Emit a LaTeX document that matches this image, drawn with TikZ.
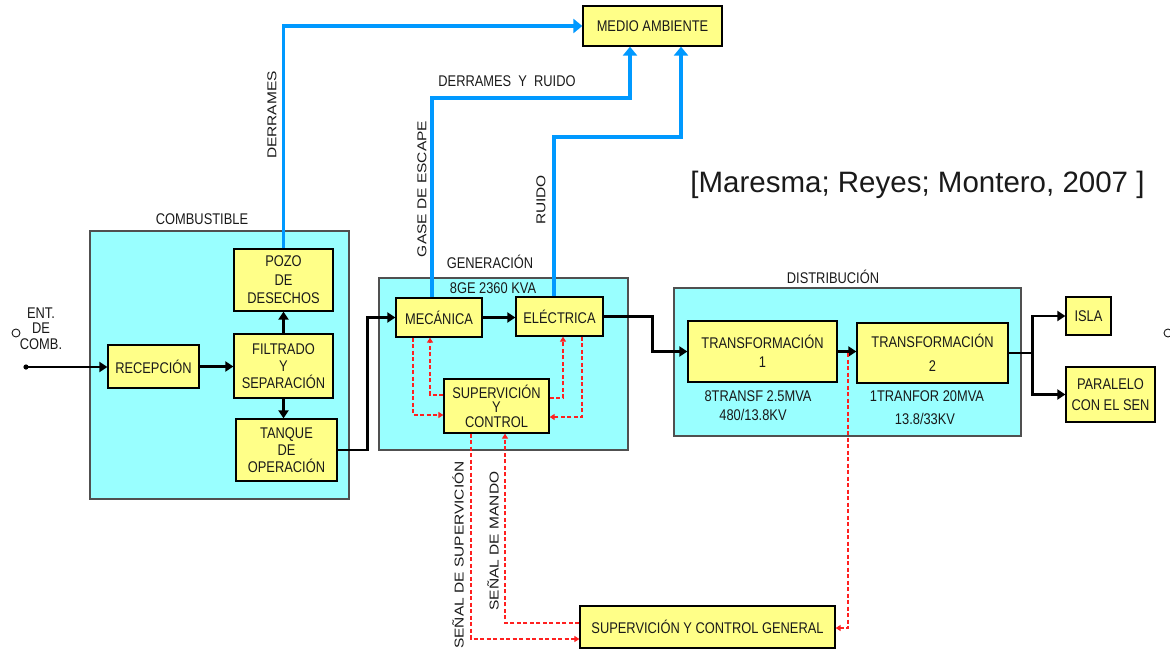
\documentclass[tikz,border=0pt]{standalone}
\usepackage{fontspec}
\setmainfont{Liberation Sans}
\newfontfamily\nar[FakeStretch=0.83]{Liberation Sans}
\usetikzlibrary{arrows.meta}
\definecolor{grpcyan}{HTML}{99FFFF}
\definecolor{grpborder}{HTML}{505050}
\definecolor{boxyellow}{HTML}{FFFF88}
\definecolor{envblue}{HTML}{0099FF}
\definecolor{sigred}{HTML}{FF2020}
\definecolor{txt}{HTML}{1A1A1A}
\tikzset{
  ybox/.style={draw=black, line width=1.3pt, fill=boxyellow, text=txt,
    font=\nar\fontsize{15.5}{17}\selectfont, align=center, inner sep=0pt},
  cbox/.style={draw=grpborder, line width=1.3pt, fill=grpcyan, inner sep=0pt},
  lbl/.style={text=txt, font=\nar\fontsize{15.5}{17}\selectfont, align=center, inner sep=0pt},
  rlbl/.style={text=txt, font=\fontsize{15.5}{17}\selectfont, rotate=90, inner sep=0pt},
  thickline/.style={draw=black, line width=2.6pt},
  flow/.style={thickline, -{Triangle[length=8pt,width=10pt]}},
  env/.style={draw=envblue, line width=3.6pt, -{Triangle[length=9pt,width=14pt]}},
  sig/.style={draw=sigred, line width=1.2pt, dash pattern=on 4pt off 2.5pt,
    -{Triangle[length=5pt,width=6pt]}},
}
\begin{document}
\begin{tikzpicture}[x=1pt,y=-1pt]
\useasboundingbox (0,0) rectangle (1170,651);
\fill[white] (0,0) rectangle (1170,651);

% group boxes
\node[cbox, minimum width=259pt, minimum height=268pt] (comb) at (219.5,365) {};
\node[cbox, minimum width=249pt, minimum height=172pt] (gen) at (503.5,364) {};
\node[cbox, minimum width=347pt, minimum height=148pt] (dist) at (847.5,362) {};

% group labels
\node[lbl] (lcomb) at (202,219) {COMBUSTIBLE};
\node[lbl] (lgen) at (490,262) {GENERACIÓN};
\node[lbl] (lgen2) at (493,288) {8GE 2360 KVA};
\node[lbl] (ldist) at (833,277) {DISTRIBUCIÓN};

% boxes
\node[ybox, minimum width=99pt, minimum height=62pt] (pozo) at (283.5,280) {POZO\\[2pt]DE\\[1pt]DESECHOS};
\node[ybox, minimum width=99pt, minimum height=64pt] (filtr) at (283.5,366) {FILTRADO\\Y\\SEPARACIÓN};
\node[ybox, minimum width=101pt, minimum height=62pt] (tanque) at (286.5,450) {TANQUE\\DE\\OPERACIÓN};
\node[ybox, minimum width=91pt, minimum height=43pt] (recep) at (153.5,366.5) {RECEPCIÓN};
\node[ybox, minimum width=86pt, minimum height=39pt] (mec) at (439,317.5) {MECÁNICA};
\node[ybox, minimum width=87pt, minimum height=39pt] (elec) at (559.5,316.5) {ELÉCTRICA};
\node[ybox, minimum width=105pt, minimum height=54pt, font=\nar\fontsize{15.5}{14.5}\selectfont] (sup) at (496.5,406) {SUPERVICIÓN\\Y\\CONTROL};
\node[ybox, minimum width=255pt, minimum height=42pt] (scg) at (707.5,627) {SUPERVICIÓN Y CONTROL GENERAL};
\node[ybox, minimum width=149pt, minimum height=61pt] (t1) at (762.5,351.5) {TRANSFORMACIÓN\\[2pt]1};
\node[ybox, minimum width=151pt, minimum height=60pt] (t2) at (932.5,353) {TRANSFORMACIÓN\\[7pt]2};
\node[ybox, minimum width=45pt, minimum height=38pt] (isla) at (1088.5,316) {ISLA};
\node[ybox, minimum width=89pt, minimum height=55pt] (paral) at (1110.5,394.5) {PARALELO\\[4pt]CON EL SEN};
\node[ybox, minimum width=139pt, minimum height=40pt] (medio) at (652.5,26) {MEDIO AMBIENTE};

% transformer notes
\node[lbl] (n1a) at (758,396) {8TRANSF 2.5MVA};
\node[lbl] (n1b) at (753,415) {480/13.8KV};
\node[lbl] (n2a) at (927,396) {1TRANFOR 20MVA};
\node[lbl] (n2b) at (925,419) {13.8/33KV};

% input
\node[lbl, font=\nar\fontsize{15.5}{15.5}\selectfont] (ent) at (41,328.5) {ENT.\\DE\\COMB.};
\node[draw=txt, line width=0.9pt, circle, minimum size=8pt, inner sep=0pt] (c1) at (16,333) {};
\node[draw=txt, line width=0.9pt, circle, minimum size=8pt, inner sep=0pt] (c2) at (1168,333) {};
\coordinate (in) at (26,367);
\fill[black] (in) circle (2.6pt);

% black flow
\draw[flow] (in) -- (in -| recep.west);
\draw[flow] (recep.east) -- (recep.east -| filtr.west);
\draw[flow] (filtr.north) -- (pozo.south);
\draw[flow] (filtr.south) -- (filtr.south |- tanque.north);
\draw[flow] (tanque.east) -- ++(30,0) |- (mec.west);
\draw[flow, line width=3pt] (mec.east) -- (mec.east -| elec.west);
\draw[flow, line width=3.4pt] (elec.east) -- ++(49,0) |- (t1.west);
\draw[flow, line width=3.4pt] (t1.east) -- (t1.east -| t2.west);
\draw[thickline] (t2.east) -- ++(24,0) coordinate (br);
\draw[flow] (br) |- (isla.west);
\draw[flow] (br) |- (paral.west);

% environment (blue)
\draw[env] (pozo.north) |- (medio.west);
\draw[env] ([xshift=-7pt]mec.north) |- (630,98) -- ([xshift=-22.5pt]medio.south);
\draw[env] ([xshift=-5.5pt]elec.north) |- (681,137) -- ([xshift=28.5pt]medio.south);
\node[rlbl] (lder) at (272,115) {\scalebox{1}[0.83]{DERRAMES}};
\node[lbl] (lderr) at (507,81) {DERRAMES\ \ Y\ \ RUIDO};
\node[rlbl] (lgas) at (422,189) {\scalebox{1}[0.83]{GASE DE ESCAPE}};
\node[rlbl] (lrui) at (541,200) {\scalebox{1}[0.83]{RUIDO}};

% signals (red dashed)
\draw[sig] ([xshift=-26pt]mec.south) |- ([yshift=-9pt]sup.west);
\draw[sig] ([yshift=11pt]sup.west) -| ([xshift=-9pt]mec.south);
\draw[sig] ([yshift=8pt]sup.east) -| ([xshift=3.5pt]elec.south);
\draw[sig] ([xshift=22.5pt]elec.south) |- ([yshift=-11pt]sup.east);
\draw[sig] ([xshift=-25.5pt]sup.south) |- ([yshift=-12pt]scg.west);
\draw[sig] ([yshift=4pt]scg.west) -| ([xshift=8.5pt]sup.south);
\coordinate (tap) at (848,353);
\draw[sig] (tap) |- ([yshift=-1pt]scg.east);
\node[rlbl] (lss) at (458,555) {\scalebox{1}[0.83]{SEÑAL DE SUPERVICIÓN}};
\node[rlbl] (lsm) at (493,541) {\scalebox{1}[0.83]{SEÑAL DE MANDO}};

% citation
\node[text=txt, font=\fontsize{29.5}{32}\selectfont, inner sep=0pt] (cite) at (917.5,185) {[Maresma; Reyes; Montero, 2007 ]};
\end{tikzpicture}
\end{document}
